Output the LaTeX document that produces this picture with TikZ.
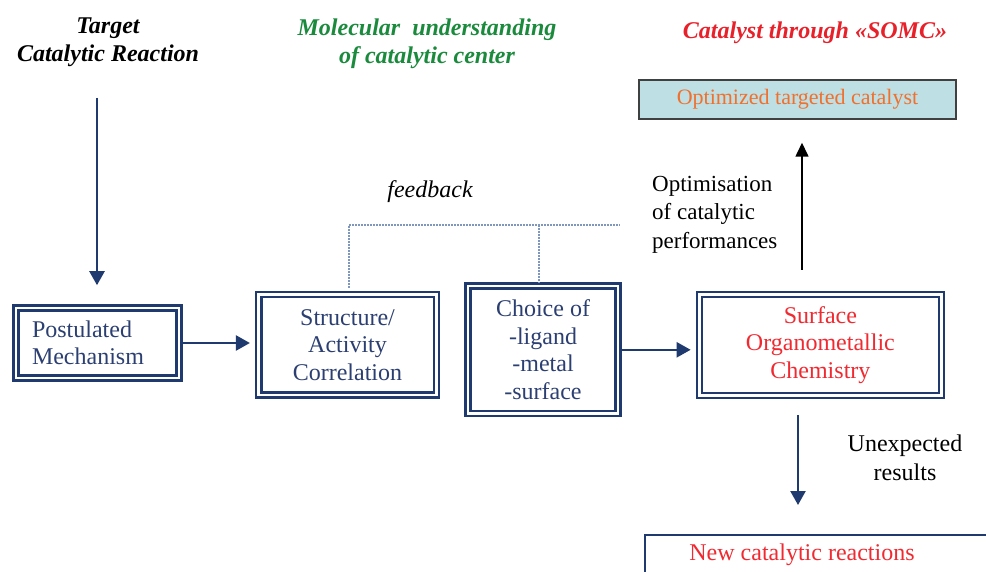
\documentclass[tikz,border=0pt]{standalone}
\usepackage{fontspec}
\setmainfont{Liberation Serif}
\usetikzlibrary{arrows.meta}
\definecolor{navy}{HTML}{1F3A6E}
\definecolor{boxtxt}{HTML}{2B3F72}
\definecolor{somcred}{HTML}{F02A30}
\definecolor{titlegreen}{HTML}{1A8A3C}
\definecolor{titlered}{HTML}{E8202A}
\definecolor{orangetxt}{HTML}{F0702D}
\definecolor{cyanfill}{HTML}{BEDFE3}
\definecolor{fbcol}{HTML}{7F97BC}
\begin{document}
\begin{tikzpicture}[x=1pt,y=-1pt,
  every node/.style={font=\fontsize{24}{27.5}\selectfont, inner sep=0pt},
  dbox/.style={draw=navy, double=white, double distance=2.6pt, line width=2.5pt,
    outer sep=3.8pt, inner sep=0pt, text=boxtxt, align=center},
  titletxt/.style={font=\fontsize{24}{28}\selectfont\bfseries\itshape, align=center},
  plaintxt/.style={text=black, align=center},
  navyarrow/.style={draw=navy, line width=2.4pt, -{Triangle[length=14pt,width=15pt]}},
  blackarrow/.style={draw=black, line width=1.6pt, -{Triangle[length=14pt,width=13pt]}},
  fbline/.style={draw=fbcol, line width=2.4pt, dash pattern=on 2pt off 1pt}
]
\clip (0,0) rectangle (986,572);
\fill[white] (0,0) rectangle (986,572);

% titles
\node[titletxt] (t1) at (108,42.5) {Target\\Catalytic Reaction};
\node[titletxt, text=titlegreen] (t2) at (427,43.5) {Molecular\ \ understanding\\of catalytic center};
\node[titletxt, text=titlered] (t3) at (815,33) {Catalyst through «SOMC»};

% top box
\node[draw=black!75, line width=1.5pt, fill=cyanfill, minimum width=317pt, minimum height=39pt,
  text=orangetxt, font=\fontsize{22}{26}\selectfont] (topbox) at (797.5,99.5) {Optimized targeted catalyst};

% main boxes
\node[dbox, minimum width=163pt, minimum height=70pt, text width=130.6pt, align=left] (post) at (97.3,343) {Postulated\\Mechanism};
\node[dbox, minimum width=177.6pt, minimum height=100.6pt] (struct) at (347.5,344.7) {Structure/\\Activity\\Correlation};
\node[dbox, minimum width=150pt, minimum height=127.6pt] (choice) at (543,349.8) {Choice of\\-ligand\\-metal\\-surface};
\node[dbox, minimum width=241.9pt, minimum height=100.6pt, text=somcred] (somc) at (820.4,345) {Surface\\Organometallic\\Chemistry};

% side texts
\node[plaintxt, font=\fontsize{24}{27}\selectfont\itshape] (fbtxt) at (430,192) {feedback};
\node[plaintxt, align=left, anchor=west, font=\fontsize{23}{28.5}\selectfont] (opt) at (652,214.5) {Optimisation\\of catalytic\\performances};
\node[plaintxt, font=\fontsize{24}{29}\selectfont] (unexp) at (905,457.5) {Unexpected\\results};

% bottom box (cut by the page edge)
\coordinate (nbTL) at (645,535);
\draw[navy, line width=2pt] (645,590) -- (nbTL) -- (1000,535);
\node[text=somcred] (newtxt) at (802,555) {New catalytic reactions};

% coordinates for connectors
\coordinate (a1) at (97,98);
\coordinate (a2) at (798,0);
\coordinate (a3) at (802,0);
\coordinate (fbL) at (349,225);
\coordinate (fbM) at (539,225);
\coordinate (fbR) at (620,225);

% arrows
\draw[navyarrow, shorten >=19pt] (a1) -- (a1 |- post.north);
\draw[navyarrow, shorten >=5pt] (post.east) -- (post.east -| struct.west);
\draw[navyarrow, shorten >=5pt] (choice.east) -- (choice.east -| somc.west);
\draw[navyarrow, shorten <=16pt, shorten >=30pt] (somc.south -| a2) -- (a2 |- nbTL);
\draw[blackarrow, shorten <=21pt, shorten >=23pt] (somc.north -| a3) -- (topbox.south -| a3);

% feedback
\draw[fbline, shorten <=3pt] (struct.north -| fbL) -- (fbL) -- (fbR);
\draw[fbline] (fbM) -- (choice.north -| fbM);
\end{tikzpicture}
\end{document}
